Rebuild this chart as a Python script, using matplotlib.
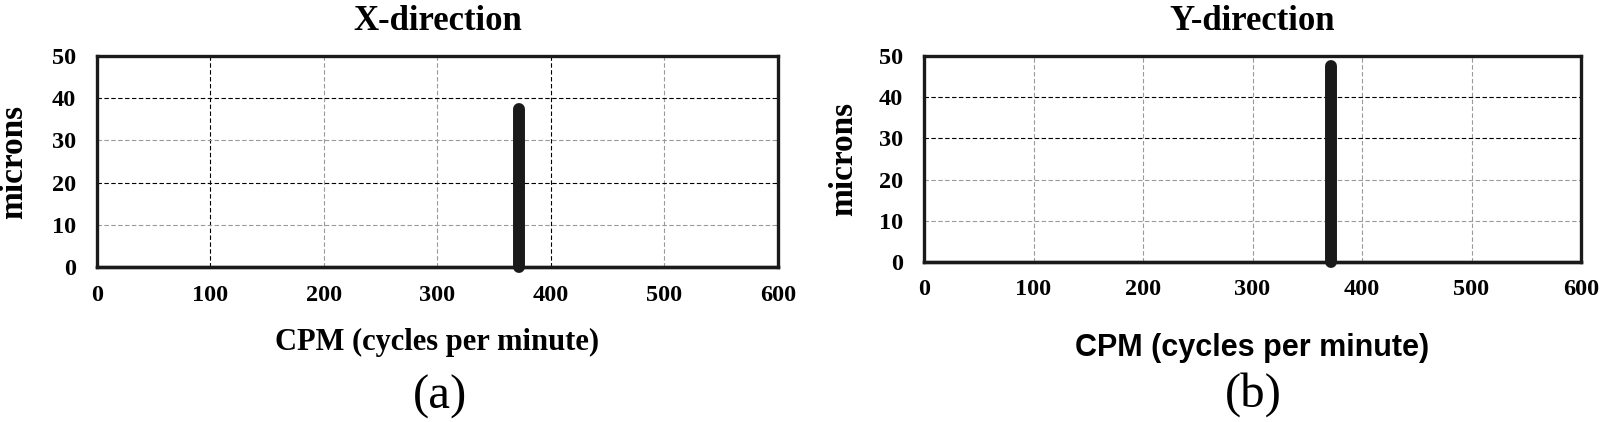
import matplotlib
matplotlib.use("Agg")
import matplotlib.pyplot as plt

# spectrum data (CPM vs microns)
cpm_range = [0, 600]
peak_cpm = 372
peak_x = 37.5   # X-direction amplitude
peak_y = 47.5   # Y-direction amplitude

xticks = [0, 100, 200, 300, 400, 500, 600]
yticks = [0, 10, 20, 30, 40, 50]

titles = ["X-direction", "Y-direction"]
panel_tags = ["(a)", "(b)"]

serif = "Liberation Serif"
sans = "Liberation Sans"
W, H = 1600, 422

fig = plt.figure(figsize=(16, 4.22), dpi=100)
ax1 = fig.add_axes([97/W, 1-267/H, 681/W, 211/H])
ax2 = fig.add_axes([924/W, 1-262/H, 657/W, 206/H])

# grid line shades as they appear in the source (darker/lighter dashes)
grey = "#9a9a9a"
vgrid = [["k", grey, grey, "k", grey],
         [grey] * 5]
hgrid = [[grey, "k", grey, "k"],
         [grey, grey, "k", "k"]]

peaks = [peak_x, peak_y]
xlab_fonts = [serif, sans]
xlab_y = [-0.29, -0.345]

for i, ax in enumerate([ax1, ax2]):
    ax.set_xlim(cpm_range)
    ax.set_ylim(0, 50)
    ax.set_xticks(xticks)
    ax.set_yticks(yticks)
    for xv, c in zip(xticks[1:-1], vgrid[i]):
        ax.axvline(xv, color=c, lw=0.8, ls=(0, (4, 2.2)), zorder=1)
    for yv, c in zip(yticks[1:-1], hgrid[i]):
        ax.axhline(yv, color=c, lw=0.8, ls=(0, (4, 2.2)), zorder=1)
    # baseline of spectrum
    ax.plot(cpm_range, [0, 0], color="#1a1a1a", lw=2.4, zorder=3, clip_on=False)
    # peak
    ax.plot([peak_cpm, peak_cpm], [0, peaks[i]], color="#1a1a1a", lw=8.6,
            solid_capstyle="round", zorder=4, clip_on=False)
    for s in ax.spines.values():
        s.set_linewidth(2.4)
        s.set_color("#1a1a1a")
    ax.tick_params(axis="y", length=0, pad=15)
    ax.tick_params(axis="x", length=0, pad=13 if i == 0 else 12)
    for lab in ax.get_xticklabels() + ax.get_yticklabels():
        lab.set_fontfamily(serif)
        lab.set_fontweight("bold")
        lab.set_fontsize(17.5)
    ax.set_title(titles[i], fontfamily=serif, fontweight="bold", fontsize=25, pad=19)
    ax.set_ylabel("microns", fontfamily=serif, fontweight="bold", fontsize=24)
    ax.yaxis.set_label_coords(-0.099, 0.5)
    ax.set_xlabel("CPM (cycles per minute)", fontfamily=xlab_fonts[i],
                  fontweight="bold", fontsize=22)
    ax.xaxis.set_label_coords(0.5, xlab_y[i])

fig.text(440/W, 1-397/H, panel_tags[0], fontfamily=serif, fontsize=35,
         ha="center", va="center")
fig.text(1253/W, 1-395/H, panel_tags[1], fontfamily=serif, fontsize=35,
         ha="center", va="center")

fig.savefig("out.png", dpi=100)
